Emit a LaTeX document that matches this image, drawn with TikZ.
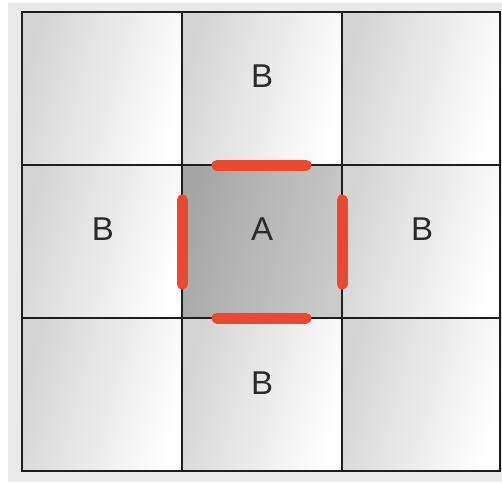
\documentclass[tikz,border=0pt]{standalone}
\usepackage{fontspec}
\setmainfont{Liberation Sans}
\usepackage{xcolor,tikz}
\usetikzlibrary{positioning,calc}
\definecolor{nbrBackFill}{HTML}{E9E9E9}
\definecolor{nbrGridLine}{HTML}{1E1E1E}
\definecolor{nbrCellDark}{HTML}{D4D4D4}
\definecolor{nbrCellLight}{HTML}{FFFFFF}
\definecolor{nbrCentreDark}{HTML}{A6A6A6}
\definecolor{nbrCentreLight}{HTML}{CACACA}
\definecolor{nbrEdgeLine}{HTML}{E8492F}
\definecolor{nbrTextLine}{HTML}{2A2A2A}

\begin{document}
\begin{tikzpicture}[x=1pt, y=-1pt,
  cell/.style={shading=axis, left color=nbrCellDark, right color=nbrCellLight,
    shading angle=75},
  centrecell/.style={shading=axis, left color=nbrCentreDark, right color=nbrCentreLight,
    shading angle=75},
  grid/.style={nbrGridLine, line width=2.2pt},
  edgebar/.style={nbrEdgeLine, line width=11pt, line cap=round},
  letter/.style={font=\fontsize{33}{33}\selectfont, text=nbrTextLine, inner sep=0pt}]

%% FRAME =============================================================

\useasboundingbox (0,0) rectangle (502,482);
\fill[nbrBackFill] (8,3) rectangle (502,482);

% --- CELL EDGES (px, y downwards) ---
\def\xA{22}  \def\xB{182} \def\xC{342} \def\xD{500}
\def\yA{12}  \def\yB{165} \def\yC{318} \def\yD{471}

% --- CELLS ---
\foreach \xl/\xr in {\xA/\xB, \xB/\xC, \xC/\xD} {
  \foreach \yt/\yb in {\yA/\yB, \yB/\yC, \yC/\yD} {
    \shade[cell] (\xl,\yt) rectangle (\xr,\yb);
  }
}
\shade[centrecell] (\xB,\yB) rectangle (\xC,\yC);

% --- GRID LINES ---
\draw[grid] (\xA,\yA) rectangle (\xD,\yD);
\draw[grid] (\xB,\yA) -- (\xB,\yD);
\draw[grid] (\xC,\yA) -- (\xC,\yD);
\draw[grid] (\xA,\yB) -- (\xD,\yB);
\draw[grid] (\xA,\yC) -- (\xD,\yC);

% --- SHARED EDGES OF A ---
\draw[edgebar] (217,\yB) -- (306,\yB);
\draw[edgebar] (217,\yC) -- (306,\yC);
\draw[edgebar] (\xB,200) -- (\xB,284);
\draw[edgebar] (\xC,200) -- (\xC,284);

% --- LABELS ---
\node[letter] (centre) at (262,229) {A};
\node[letter] (north)  at (262,76)  {B};
\node[letter] (west)   at (103,229) {B};
\node[letter] (east)   at (422,229) {B};
\node[letter] (south)  at (262,383) {B};

\end{tikzpicture}
\end{document}
